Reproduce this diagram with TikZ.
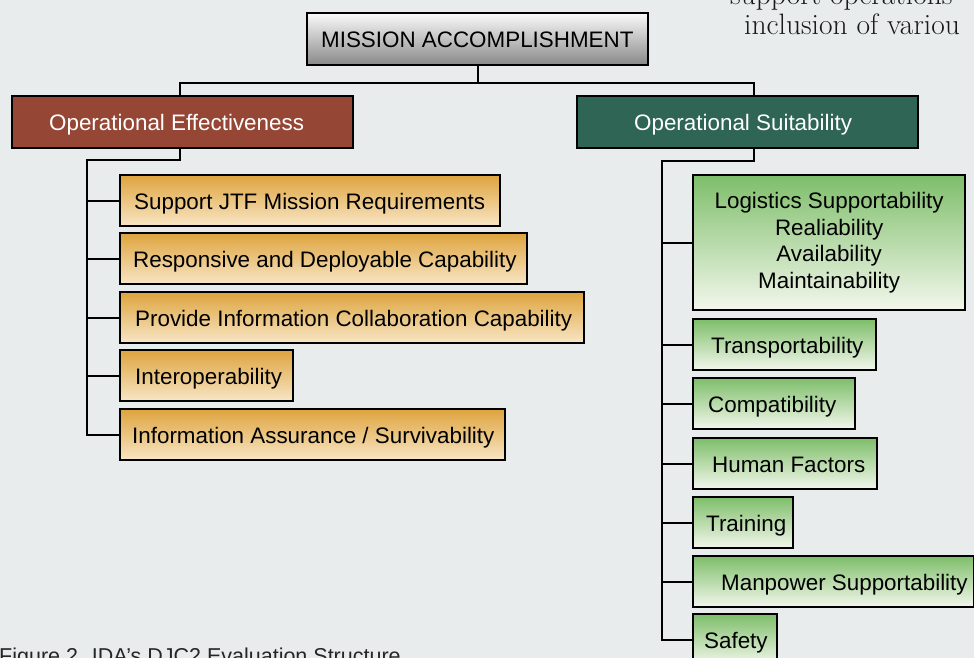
\documentclass[tikz,border=0pt]{standalone}
\usepackage{fontspec}
\newfontfamily\arialf{Liberation Sans}
\definecolor{bgc}{RGB}{233,236,236}
\definecolor{oec}{RGB}{149,70,52}
\definecolor{osc}{RGB}{46,101,84}
\definecolor{ortop}{RGB}{222,164,62}
\definecolor{orbot}{RGB}{248,230,198}
\definecolor{grtop}{RGB}{126,190,106}
\definecolor{grbot}{RGB}{243,247,236}
\definecolor{mitop}{RGB}{250,250,250}
\definecolor{mibot}{RGB}{136,136,136}
\newcommand{\lbox}[3]{\makebox[#1pt][l]{\hspace*{#2pt}#3}}
\tikzset{
  box/.style={draw=black, line width=2.3pt, inner sep=0pt, minimum height=51pt,
    anchor=north west, text height=20pt, text depth=3pt,
    font=\arialf\fontsize{22.4}{26.5}\selectfont},
  obox/.style={box, top color=ortop, bottom color=orbot},
  gbox/.style={box, top color=grtop, bottom color=grbot},
  headbox/.style={box, minimum height=52pt, text=white},
  conn/.style={line width=2.3pt, draw=black},
  bodytext/.style={anchor=base west, inner sep=0pt, text=black!90, font=\fontsize{29.5}{31}\selectfont}
}
\begin{document}
\begin{tikzpicture}[x=1pt,y=-1pt]
\useasboundingbox (0,0) rectangle (974,658);
\fill[bgc] (0,0) rectangle (974,658);
\clip (0,0) rectangle (974,658);

% partial body text
\node[bodytext] (bt1) at (730,5) {support operations};
\node[bodytext] (bt2) at (744,35) {inclusion of variou};

% top
\node[box, minimum height=52pt, top color=mitop, bottom color=mibot] (mission) at (306,12) {\lbox{341}{14}{MISSION ACCOMPLISHMENT}};
\node[headbox, fill=oec] (oe) at (11,95) {\lbox{341}{37}{Operational Effectiveness}};
\node[headbox, fill=osc] (os) at (576,95) {\lbox{341}{57}{Operational Suitability}};

% effectiveness children
\node[obox] (c1) at (119,174) {\lbox{380}{14}{Support JTF Mission Requirements}};
\node[obox] (c2) at (119,232) {\lbox{407}{13}{Responsive and Deployable Capability}};
\node[obox] (c3) at (119,291) {\lbox{464}{15}{Provide Information Collaboration Capability}};
\node[obox] (c4) at (119,349) {\lbox{173}{15}{Interoperability}};
\node[obox] (c5) at (119,408) {\lbox{385}{12}{Information Assurance / Survivability}};

% suitability children
\node[gbox, minimum width=272pt, minimum height=135pt, align=center, text height=, text depth=] (s1) at (692,174)
  {Logistics Supportability\\Realiability\\Availability\\Maintainability};
\node[gbox] (s2) at (692,318) {\lbox{183}{18}{Transportability}};
\node[gbox] (s3) at (692,377) {\lbox{162}{15}{Compatibility}};
\node[gbox] (s4) at (692,437) {\lbox{184}{19}{Human Factors}};
\node[gbox] (s5) at (692,496) {\lbox{100}{13}{Training}};
\node[gbox] (s6) at (692,555) {\lbox{281}{28}{Manpower Supportability}};
\node[gbox] (s7) at (692,613) {\lbox{84}{11}{Safety}};

% connectors top
\draw[conn] (mission.south) -- ++(0,17) -| ([xshift=-2.5pt]oe.north);
\draw[conn] (mission.south) ++(0,17) -| ([xshift=6.5pt]os.north);

% left tree
\draw[conn] ([xshift=-2.5pt]oe.south) -- ++(0,11) -| ([xshift=-32pt]c5.west) -- (c5.west);
\foreach \n in {c1,c2,c3,c4} \draw[conn] (\n.west) -- ++(-32,0);

% right tree
\draw[conn] ([xshift=6.5pt]os.south) -- ++(0,12) -| ([xshift=-30pt]s7.west) -- (s7.west);
\foreach \n in {s1,s2,s3,s4,s5,s6} \draw[conn] (\n.west) -- ++(-30,0);

% caption
\node[anchor=base west, inner sep=0pt, text=black!85, font=\arialf\fontsize{21.5}{24}\selectfont] (cap) at (-1,663) {Figure 2. IDA’s DJC2 Evaluation Structure};
\end{tikzpicture}
\end{document}
